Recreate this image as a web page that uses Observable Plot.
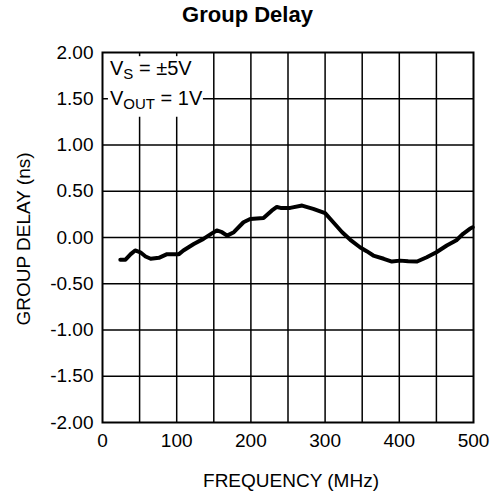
<!DOCTYPE html>
<html>
<head>
<meta charset="utf-8">
<script src="https://cdn.jsdelivr.net/npm/d3@7"></script>
<script src="https://cdn.jsdelivr.net/npm/@observablehq/plot@0.6"></script>
<style>
  body { margin: 0; background: #fff; font-family: "Liberation Sans", Arial, Helvetica, sans-serif; }
  #title { width: 495px; height: 30px; line-height: 30px; font-size: 22px; font-weight: bold; text-align: center; color: #000; }
  #chart svg { display: block; }
</style>
</head>
<body>
<div id="title"></div>
<div id="chart"></div>
<script>
// ---- data ----
const title = "Group Delay";
const xLabel = "FREQUENCY (MHz)";
const yLabel = "GROUP DELAY (ns)";
const xTicks = [0, 100, 200, 300, 400, 500];
const yTicks = [-2, -1.5, -1, -0.5, 0, 0.5, 1, 1.5, 2];
const xGrid = [50, 100, 150, 200, 250, 300, 350, 400, 450];
const yGrid = [-1.5, -1, -0.5, 0, 0.5, 1, 1.5];
const freq = [24, 31, 38, 44, 51, 58, 65, 76, 87, 103, 109, 123, 136, 148, 154, 161, 168, 177, 190, 199, 217, 228, 235, 240, 253, 269, 284, 300, 311, 323, 334, 347, 356, 365, 379, 390, 401, 412, 424, 437, 450, 464, 477, 486, 495, 499];
const delay = [-0.24, -0.24, -0.18, -0.14, -0.16, -0.205, -0.23, -0.22, -0.18, -0.18, -0.14, -0.07, -0.015, 0.047, 0.076, 0.057, 0.02, 0.057, 0.165, 0.2, 0.21, 0.29, 0.33, 0.32, 0.32, 0.345, 0.31, 0.263, 0.165, 0.057, -0.025, -0.105, -0.148, -0.195, -0.23, -0.26, -0.25, -0.256, -0.26, -0.213, -0.159, -0.086, -0.03, 0.04, 0.094, 0.11];
const noteMain = ["V", "V"];
const noteSub = ["S", "OUT"];
const noteRest = [" = \u00b15V", " = 1V"];

// ---- chart ----
document.getElementById("title").textContent = title;
const rows = freq.map((f, i) => ({f, d: delay[i]}));

const plot = Plot.plot({
  width: 501,
  height: 467,
  marginTop: 22,
  marginBottom: 75,
  marginLeft: 102,
  marginRight: 28,
  style: {fontFamily: "Liberation Sans, Arial, Helvetica, sans-serif", fontSize: "19px", color: "black", background: "white", overflow: "visible"},
  x: {domain: [0, 500]},
  y: {domain: [-2, 2]},
  marks: [
    Plot.ruleX(xGrid, {stroke: "black", strokeWidth: 1.5}),
    Plot.ruleY(yGrid, {stroke: "black", strokeWidth: 1.5}),
    Plot.rect([0], {x1: 8, x2: 136, y1: 1.30, y2: 1.955, fill: "white"}),
    Plot.frame({stroke: "black", strokeWidth: 2}),
    Plot.axisX({ticks: xTicks, tickSize: 0, tickPadding: 11, fontSize: 19, label: null, tickFormat: d => String(d)}),
    Plot.axisY({ticks: yTicks, tickSize: 0, tickPadding: 9, fontSize: 19, label: null, tickFormat: d => d.toFixed(2)}),
    Plot.text([xLabel], {text: d => d, frameAnchor: "bottom", textAnchor: "middle", dy: 58, dx: 3, fontSize: 19, lineAnchor: "middle"}),
    Plot.text([yLabel], {text: d => d, frameAnchor: "left", textAnchor: "middle", rotate: -90, dx: -79, dy: 1.5, fontSize: 19, lineAnchor: "middle"}),
    Plot.line(rows, {x: "f", y: "d", stroke: "black", strokeWidth: 4, strokeLinejoin: "round", strokeLinecap: "round"})
  ]
});

// annotation with subscripts, positioned through the plot's scales
const sx = plot.scale("x"), sy = plot.scale("y");
const noteX = 10.8, noteY = [1.751, 1.427];
const svg = d3.select(plot);
noteMain.forEach((m, i) => {
  const t = svg.append("text")
    .attr("x", sx.apply(noteX))
    .attr("y", sy.apply(noteY[i]))
    .attr("text-anchor", "start")
    .attr("font-size", 20)
    .attr("fill", "black");
  t.append("tspan").text(m);
  t.append("tspan").attr("font-size", 15).attr("dy", 4).text(noteSub[i]);
  t.append("tspan").attr("dy", -4).text(noteRest[i]);
});

document.getElementById("chart").appendChild(plot);
</script>
</body>
</html>
